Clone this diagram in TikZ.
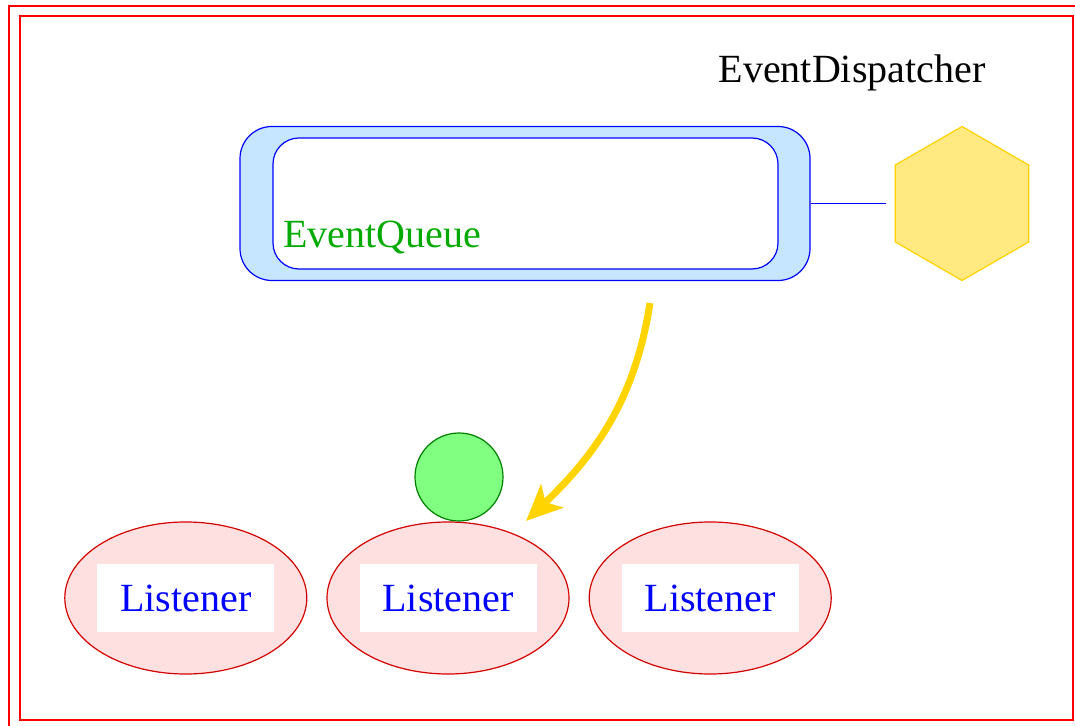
\documentclass[tikz,border=0pt]{standalone}
\usepackage{fontspec}
\setmainfont{Liberation Serif}
\usepackage{tikz}
\usetikzlibrary{positioning}
\usetikzlibrary{shapes.geometric}
\usetikzlibrary{arrows.meta}
\definecolor{qfill}{RGB}{198,230,255}
\definecolor{hexfill}{RGB}{255,233,128}
\definecolor{hexline}{RGB}{255,210,0}
\definecolor{arrowgold}{RGB}{255,212,0}
\definecolor{ballfill}{RGB}{128,255,128}
\definecolor{ballline}{RGB}{0,128,0}
\definecolor{lisfill}{RGB}{255,224,224}
\definecolor{lisline}{RGB}{210,0,0}
\definecolor{qtext}{RGB}{0,170,0}
\tikzstyle{frame} = [draw=red, line width=0.8pt]
\tikzstyle{queue} = [draw=blue, line width=0.6pt, fill=qfill, rounded corners=16pt, minimum width=285pt, minimum height=77pt]
\tikzstyle{slot} = [draw=blue, line width=0.6pt, fill=white, rounded corners=13pt, minimum width=252.5pt, minimum height=65.5pt]
\tikzstyle{hex} = [draw=hexline, line width=0.6pt, fill=hexfill, regular polygon, regular polygon sides=6, shape border rotate=30, minimum size=77pt, inner sep=0pt]
\tikzstyle{ball} = [draw=ballline, line width=0.6pt, fill=ballfill, circle, minimum size=44pt, inner sep=0pt]
\tikzstyle{listener} = [draw=lisline, line width=0.6pt, fill=lisfill, ellipse, minimum width=121pt, minimum height=76pt]
\tikzstyle{tag} = [fill=white, text=blue, font=\fontsize{20pt}{24pt}\selectfont, minimum width=88.5pt, minimum height=34pt]
\tikzstyle{title} = [font=\fontsize{20pt}{24pt}\selectfont, inner sep=0pt]

\begin{document}
\begin{tikzpicture}[x=0.5pt,y=-0.5pt]
    \useasboundingbox (0,0) rectangle (1075,726);
    \draw [frame] (9,6) rectangle (1090,740);
    \draw [frame] (20,16) rectangle (1073,720);

    \node [title, anchor=base] (name) at (852,83) {EventDispatcher};
    \node [queue] (queue) at (525,203.5) {};
    \node [slot] (slot) at (525.5,203.5) {};
    \node [title, anchor=base west, text=qtext] (qname) at (283,248) {EventQueue};
    \node [hex] (disp) at (962,203.5) {};
    \draw [blue, line width=0.6pt, shorten >=4.5pt] (queue.east) -- (disp.west);

    \node [listener] (lis2) at (448,598) {};
    \node [listener, left=9.5pt of lis2] (lis1) {};
    \node [listener, right=9.5pt of lis2] (lis3) {};
    \node [tag] (tag1) at (lis1) {Listener};
    \node [tag] (tag2) at (lis2) {Listener};
    \node [tag] (tag3) at (lis3) {Listener};
    \node [ball] (event) at (459,477) {};

    \coordinate (from) at (650,303);
    \coordinate (to) at (526,521);
    \draw [arrowgold, line width=3.5pt, -{Stealth[length=18pt,width=16pt,inset=4.5pt]}] (from) .. controls (635,400) and (595,455) .. (to);
\end{tikzpicture}
\end{document}
